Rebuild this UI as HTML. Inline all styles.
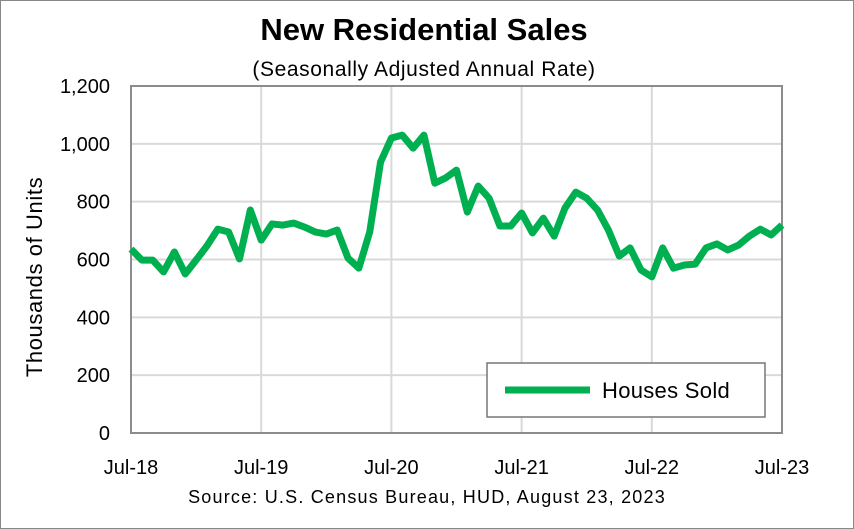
<!DOCTYPE html>
<html><head><meta charset="utf-8"><style>
body{margin:0;background:#fff}
svg{display:block;font-family:"Liberation Sans",sans-serif}
</style></head><body>
<svg width="854" height="529" viewBox="0 0 854 529">
<rect x="0.5" y="0.5" width="853" height="528" fill="#fff" stroke="#888"/>
<text x="424" y="40" text-anchor="middle" font-size="31" font-weight="bold">New Residential Sales</text>
<text x="424" y="76" text-anchor="middle" font-size="21" letter-spacing="0.6">(Seasonally Adjusted Annual Rate)</text>
<text transform="translate(42,277) rotate(-90)" text-anchor="middle" font-size="22" letter-spacing="0.6">Thousands of Units</text>
<text x="427" y="503" text-anchor="middle" font-size="18" letter-spacing="1.2">Source:  U.S. Census Bureau, HUD, August 23, 2023</text>
<g id="grid"></g><g id="axes"></g><g id="series"></g>
<g>
<rect x="487" y="363" width="278" height="54" fill="#fff" stroke="#777" stroke-width="1.5"/>
<line x1="505" y1="390" x2="590" y2="390" stroke="#00b050" stroke-width="7"/>
<text x="602" y="398" font-size="22" letter-spacing="0.3">Houses Sold</text>
</g>
</svg>
<script>
const yTicks=[0,200,400,600,800,1000,1200];
const yTickLabels=["0","200","400","600","800","1,000","1,200"];
const xTickLabels=["Jul-18","Jul-19","Jul-20","Jul-21","Jul-22","Jul-23"];
const xTickMonths=[0,12,24,36,48,60];
const housesSold=[636,598,598,557,626,550,598,647,705,695,602,771,667,723,719,726,712,695,688,702,605,570,695,937,1020,1030,985,1030,864,882,909,764,854,812,716,716,761,692,743,681,778,833,812,771,702,612,640,564,540,640,570,581,584,640,654,633,650,681,705,685,719];
const NS="http://www.w3.org/2000/svg";
const X0=131,X1=782,Y0=433,Y1=86;
const xs=m=>X0+(X1-X0)*m/60;
const ys=v=>Y0-(Y0-Y1)*v/1200;
const grid=document.getElementById('grid'),axes=document.getElementById('axes'),ser=document.getElementById('series');
function mk(tag,at,parent){const e=document.createElementNS(NS,tag);for(const k in at)e.setAttribute(k,at[k]);parent.appendChild(e);return e;}
yTicks.forEach((v,i)=>{
 if(v>0){const l=mk('line',{x1:X0,x2:X1,y1:ys(v),y2:ys(v),stroke:'#d9d9d9','stroke-width':2},grid);
 
 }
 const t=mk('text',{x:110,y:ys(v)+7,'text-anchor':'end','font-size':20},axes);t.textContent=yTickLabels[i];
 
 
});
xTickMonths.forEach((m,i)=>{
 if(m>0&&m<60){const l=mk('line',{x1:xs(m),x2:xs(m),y1:Y1,y2:Y0,stroke:'#d9d9d9','stroke-width':2},grid);
 
 }
 const t=mk('text',{x:xs(m),y:474,'text-anchor':'middle','font-size':20},axes);t.textContent=xTickLabels[i];
 
 
});
const fr=mk('rect',{x:X0,y:Y1,width:X1-X0,height:Y0-Y1,fill:'none',stroke:'#8c8c8c','stroke-width':2},axes);


const p=mk('polyline',{points:housesSold.map((v,i)=>xs(i)+','+ys(v)).join(' '),fill:'none',stroke:'#00b050','stroke-width':7,'stroke-linejoin':'round'},ser);


</script>
</body></html>
